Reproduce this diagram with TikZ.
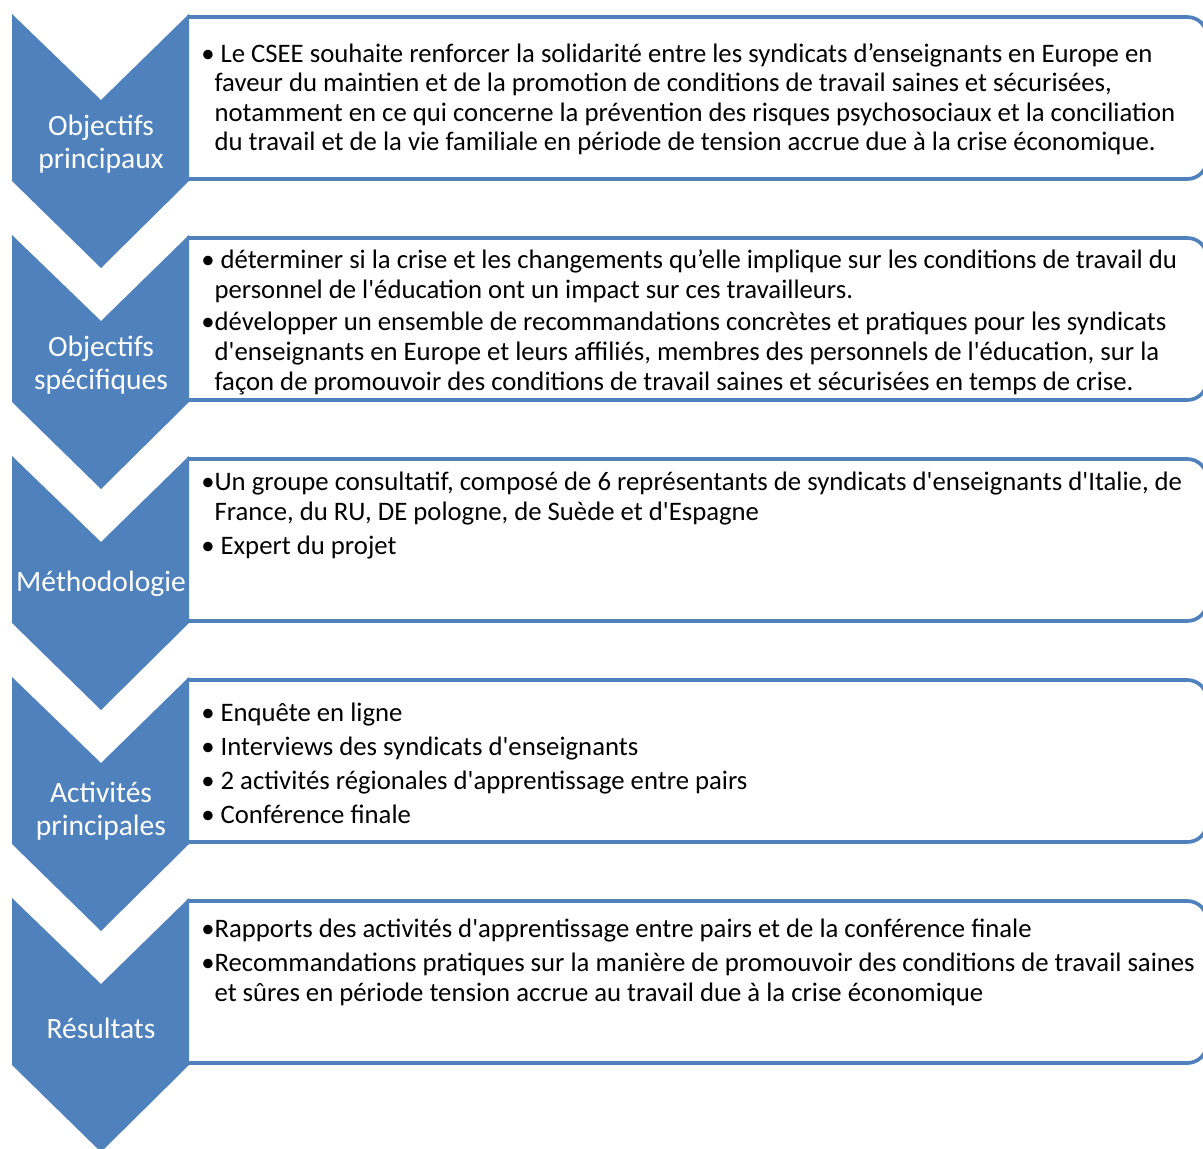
\documentclass[tikz,border=0pt]{standalone}
\usepackage{fontspec}
\setmainfont{Carlito}[Ligatures=TeXOff]
\definecolor{chevkek}{HTML}{4F81BD}

\begin{document}
\begin{tikzpicture}[x=0.025cm,y=-0.025cm,
    chevron/.style={fill=chevkek},
    keret/.style={draw=chevkek,line width=2.6pt,rounded corners=14pt},
    cimke/.style={text=white,align=center,inner sep=0pt,font=\fontsize{21}{23.5}\selectfont},
    sor/.style={anchor=base west,align=left,inner sep=0pt,font=\fontsize{19}{21}\selectfont}]

    \useasboundingbox (0,0) rectangle (1203,1149);
    \clip (0,0) rectangle (1203,1149);

    \draw[keret] (187,17) -- (1207,17) -- (1207,179) -- (187,179); % keret 1
    \draw[keret] (187,238) -- (1207,238) -- (1207,400) -- (187,400); % keret 2
    \draw[keret] (187,459) -- (1207,459) -- (1207,621) -- (187,621); % keret 3
    \draw[keret] (187,680) -- (1207,680) -- (1207,842) -- (187,842); % keret 4
    \draw[keret] (187,901) -- (1207,901) -- (1207,1063) -- (187,1063); % keret 5

    \fill[chevron] (12,14) -- (101,100) -- (189,14) -- (189,181) -- (101,268) -- (12,181) -- cycle; % nyil 1
    \fill[chevron] (12,235) -- (101,321) -- (189,235) -- (189,402) -- (101,489) -- (12,402) -- cycle; % nyil 2
    \fill[chevron] (12,456) -- (101,542) -- (189,456) -- (189,623) -- (101,710) -- (12,623) -- cycle; % nyil 3
    \fill[chevron] (12,677) -- (101,763) -- (189,677) -- (189,844) -- (101,931) -- (12,844) -- cycle; % nyil 4
    \fill[chevron] (12,898) -- (101,984) -- (189,898) -- (189,1065) -- (101,1152) -- (12,1065) -- cycle; % nyil 5

    \node[cimke] (cim1) at (101,144) {Objectifs\\principaux};
    \node[cimke] (cim2) at (101,365) {Objectifs\\spécifiques};
    \node[cimke] (cim3) at (101,584) {Méthodologie};
    \node[cimke] (cim4) at (101,811) {Activités\\principales};
    \node[cimke] (cim5) at (101,1028) {Résultats};

    % a base az utolso sor alapvonala
    \node[sor] (sz1a) at (201,151) {• Le CSEE souhaite renforcer la solidarité entre les syndicats d’enseignants en Europe en\\
        \hphantom{•}faveur du maintien et de la promotion de conditions de travail saines et sécurisées,\\
        \hphantom{•}notamment en ce qui concerne la prévention des risques psychosociaux et la conciliation\\
        \hphantom{•}du travail et de la vie familiale en période de tension accrue due à la crise économique.};

    \node[sor] (sz2a) at (201,298) {• déterminer si la crise et les changements qu’elle implique sur les conditions de travail du\\
        \hphantom{•}personnel de l'éducation ont un impact sur ces travailleurs.};
    \node[sor] (sz2b) at (201,390) {•développer un ensemble de recommandations concrètes et pratiques pour les syndicats\\
        \hphantom{•}d'enseignants en Europe et leurs affiliés, membres des personnels de l'éducation, sur la\\
        \hphantom{•}façon de promouvoir des conditions de travail saines et sécurisées en temps de crise.};

    \node[sor] (sz3a) at (201,520) {•Un groupe consultatif, composé de 6 représentants de syndicats d'enseignants d'Italie, de\\
        \hphantom{•}France, du RU, DE pologne, de Suède et d'Espagne};
    \node[sor] (sz3b) at (201,554) {• Expert du projet};

    \node[sor] (sz4a) at (201,721) {• Enquête en ligne};
    \node[sor] (sz4b) at (201,755) {• Interviews des syndicats d'enseignants};
    \node[sor] (sz4c) at (201,789) {• 2 activités régionales d'apprentissage entre pairs};
    \node[sor] (sz4d) at (201,823) {• Conférence finale};

    \node[sor] (sz5a) at (201,937) {•Rapports des activités d'apprentissage entre pairs et de la conférence finale};
    \node[sor] (sz5b) at (201,1001) {•Recommandations pratiques sur la manière de promouvoir des conditions de travail saines\\
        \hphantom{•}et sûres en période tension accrue au travail due à la crise économique};

\end{tikzpicture}
\end{document}
